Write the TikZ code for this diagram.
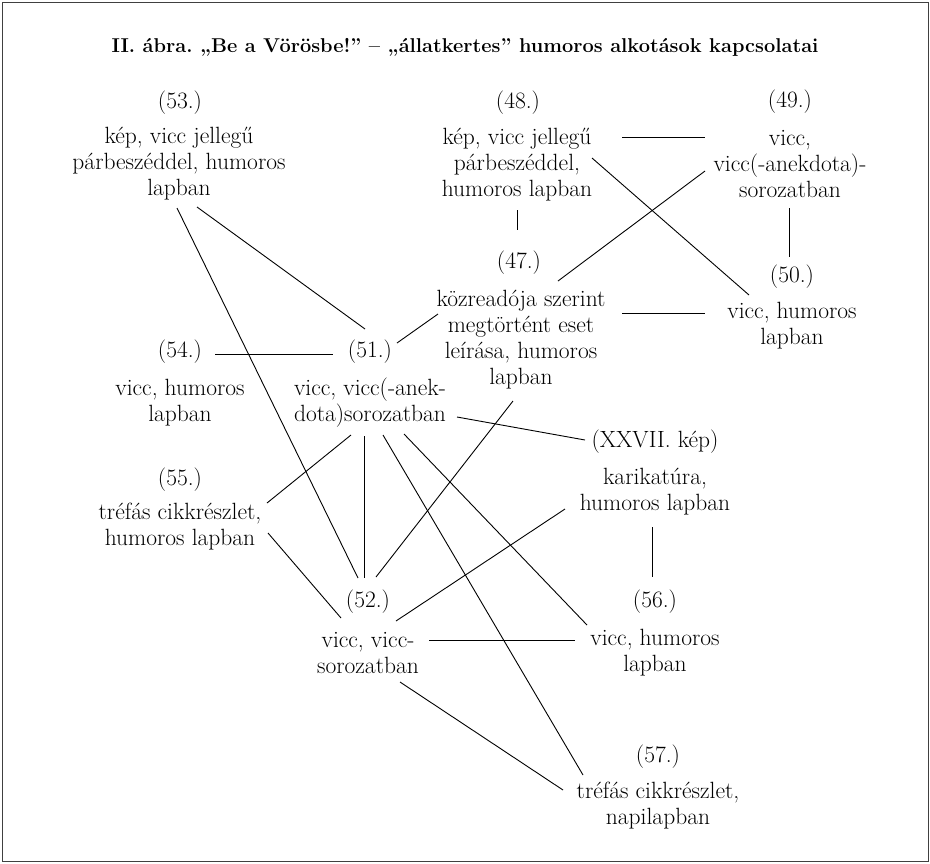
\documentclass[tikz,border=0pt]{standalone}
\usepackage{fontspec}
\frenchspacing
\begin{document}
\begin{tikzpicture}[x=1pt,y=-1pt,
  txt/.style={align=center, inner sep=0pt, font=\fontsize{23.5}{26}\selectfont},
  conn/.style={line width=0.9pt},
  frame/.style={line width=1pt, draw=black!75}]
\useasboundingbox (0,0) rectangle (930,863);
\draw[frame] (2,2) rectangle (928,861);
\node[align=center, font=\bfseries\fontsize{20}{26}\selectfont] (title) at (465,47) {II. ábra. „Be a Vörösbe!” – „állatkertes” humoros alkotások kapcsolatai};

% nodes
\node[txt] (h53) at (180,103) {(53.)};
\node[txt] (b53) at (179,164) {kép, vicc jellegű\\párbeszéddel, humoros\\lapban};
\node[txt] (h48) at (518,103) {(48.)};
\node[txt] (b48) at (517,165) {kép, vicc jellegű\\párbeszéddel,\\humoros lapban};
\node[txt] (h49) at (790,102) {(49.)};
\node[txt] (b49) at (790,164) {vicc,\\vicc(-anekdota)-\\sorozatban};
\node[txt] (h47) at (519,263) {(47.)};
\node[txt] (b47) at (521,340) {közreadója szerint\\megtörtént eset\\leírása, humoros\\lapban};
\node[txt] (h50) at (792,277) {(50.)};
\node[txt] (b50) at (792,326) {vicc, humoros\\lapban};
\node[txt] (h54) at (180,352) {(54.)};
\node[txt] (b54) at (180,403) {vicc, humoros\\lapban};
\node[txt] (h51) at (370,352) {(51.)};
\node[txt] (b51) at (370,403) {vicc, vicc(-anek-\\dota)sorozatban};
\node[txt] (hXX) at (655,442) {(XXVII. kép)};
\node[txt] (bXX) at (655,492) {karikatúra,\\humoros lapban};
\node[txt] (h55) at (180,480) {(55.)};
\node[txt] (b55) at (180,527) {tréfás cikkrészlet,\\humoros lapban};
\node[txt] (h52) at (368,602) {(52.)};
\node[txt] (b52) at (368,653) {vicc, vicc-\\sorozatban};
\node[txt] (h56) at (655,602) {(56.)};
\node[txt] (b56) at (655,653) {vicc, humoros\\lapban};
\node[txt] (h57) at (658,757) {(57.)};
\node[txt] (b57) at (658,806) {tréfás cikkrészlet,\\napilapban};

% connector end points
\coordinate (e53to51) at (197,207);  \coordinate (e51from53) at (365,329);
\coordinate (e53to52) at (177,208);  \coordinate (e52from53) at (358,578);
\coordinate (e48to49) at (622,137);  \coordinate (e49from48) at (705,137);
\coordinate (e48to50) at (592,158);  \coordinate (e50from48) at (749,295);
\coordinate (e49to47) at (705,171);  \coordinate (e47from49) at (558,281);
\coordinate (e47to51) at (438,314);  \coordinate (e51from47) at (397,343);
\coordinate (e48to47) at (517,210);  \coordinate (e47from48) at (517,230);
\coordinate (e49to50) at (789,208);  \coordinate (e50from49) at (789,257);
\coordinate (e47to50) at (622,313);  \coordinate (e50from47) at (705,313);
\coordinate (e54to51) at (215,354);  \coordinate (e51from54) at (333,354);
\coordinate (e51toXX) at (457,417);  \coordinate (eXXfrom51) at (585,440);
\coordinate (e47to52) at (513,401);  \coordinate (e52from47) at (376,577);
\coordinate (eXXto52) at (565,509);  \coordinate (e52fromXX) at (396,621);
\coordinate (e51to52) at (364,436);  \coordinate (e52from51) at (364,578);
\coordinate (e51to55) at (351,435);  \coordinate (e55from51) at (267,503);
\coordinate (e55to52) at (268,533);  \coordinate (e52from55) at (341,618);
\coordinate (e51to57) at (383,435);  \coordinate (e57from51) at (583,775);
\coordinate (e51to56) at (404,434);  \coordinate (e56from51) at (587,625);
\coordinate (e52to56) at (429,640);  \coordinate (e56from52) at (575,640);
\coordinate (e52to57) at (400,682);  \coordinate (e57from52) at (563,790);
\coordinate (eXXto56) at (652,527);  \coordinate (e56fromXX) at (652,577);

\draw[conn] (e53to51) -- (e51from53);
\draw[conn] (e53to52) -- (e52from53);
\draw[conn] (e48to49) -- (e49from48);
\draw[conn] (e48to50) -- (e50from48);
\draw[conn] (e49to47) -- (e47from49);
\draw[conn] (e47to51) -- (e51from47);
\draw[conn] (e48to47) -- (e47from48);
\draw[conn] (e49to50) -- (e50from49);
\draw[conn] (e47to50) -- (e50from47);
\draw[conn] (e54to51) -- (e51from54);
\draw[conn] (e51toXX) -- (eXXfrom51);
\draw[conn] (e47to52) -- (e52from47);
\draw[conn] (eXXto52) -- (e52fromXX);
\draw[conn] (e51to52) -- (e52from51);
\draw[conn] (e51to55) -- (e55from51);
\draw[conn] (e55to52) -- (e52from55);
\draw[conn] (e51to57) -- (e57from51);
\draw[conn] (e51to56) -- (e56from51);
\draw[conn] (e52to56) -- (e56from52);
\draw[conn] (e52to57) -- (e57from52);
\draw[conn] (eXXto56) -- (e56fromXX);
\end{tikzpicture}
\end{document}
